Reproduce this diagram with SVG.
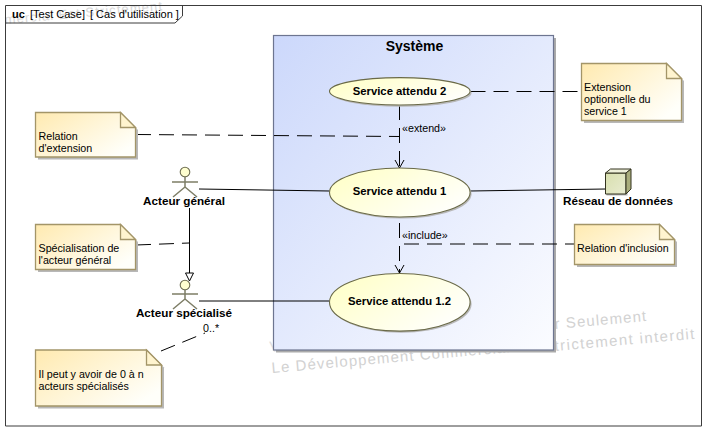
<svg xmlns="http://www.w3.org/2000/svg" width="716" height="441" viewBox="0 0 716 441">
<style>
text{font-family:"Liberation Sans",Arial,sans-serif;font-size:10.700px;fill:#000}
.b{font-weight:bold;text-anchor:middle;font-size:11.300px}
.ac{font-size:11.700px}
.wm{font-size:15px;fill:#d2d2d2;letter-spacing:1.100px}
.n{fill:url(#ng);stroke:#a39568;stroke-width:1.300}
.f{fill:#fff4cf;stroke:#a39568;stroke-width:1.300}
.s{fill:#b8b8b8}
.u{fill:url(#ug);stroke:#6a6a48;stroke-width:1.100}
.c{fill:none;stroke:#000;stroke-width:1}
.d{stroke-dasharray:15 8}
.a{fill:none;stroke:#7d7d66;stroke-width:1.500}
</style>
<defs>
<linearGradient id="ng" x1="0" y1="0" x2="1" y2="0.700"><stop offset="0" stop-color="#ffeab0"/><stop offset="1" stop-color="#fffffa"/></linearGradient>
<linearGradient id="ug" x1="0" y1="0.200" x2="1" y2="0.800"><stop offset="0" stop-color="#ffffc8"/><stop offset="1" stop-color="#ffffff"/></linearGradient>
<linearGradient id="sg" x1="0" y1="0" x2="1" y2="1"><stop offset="0" stop-color="#ccd8fb"/><stop offset="1" stop-color="#fbfcff"/></linearGradient>
<linearGradient id="cg" x1="0" y1="0" x2="1" y2="1"><stop offset="0" stop-color="#d8dfae"/><stop offset="1" stop-color="#e8ebd0"/></linearGradient>
</defs>
<rect width="716" height="441" fill="#fff"/>
<g id="watermark">
<text class="wm" transform="translate(270 352) rotate(-5)" style="fill:#e0e0e0">V</text>
<text class="wm" transform="translate(272 373) rotate(-5)">Le Développement Commercial</text>
<text class="wm" transform="translate(555 329) rotate(-5)">r Seulement</text>
<text class="wm" transform="translate(555 351) rotate(-5)" style="letter-spacing:1.400px">trictement interdit</text>
<text class="wm" transform="translate(5 24) rotate(-5)" style="font-size:13px;fill:#d8d8d8">mercial Est Strictement</text>
</g>
<g id="frame">
<path d="M5.500 5.500H701.500V426H5.500Z" fill="none" stroke="#3c3c3c"/>
<path d="M5.500 23H175L182.500 16V5.500" fill="none" stroke="#3c3c3c"/>
<text x="12" y="18" style="font-size:11px"><tspan font-weight="bold">uc</tspan><tspan x="30">[Test Case]</tspan><tspan x="90">[ Cas d'utilisation ]</tspan></text>
</g>
<g id="systeme">
<rect x="276" y="38" width="280" height="314.500" fill="#aaa"/>
<rect x="273.500" y="35.500" width="280" height="314.500" fill="url(#sg)" stroke="#6d7590" stroke-width="1.200"/>
<text class="b" x="414.500" y="51" style="font-size:14px">Système</text>
</g>
<g id="connectors">
<path class="c" d="M199 189L329.500 191"/>
<path class="c" d="M199 301H329.500"/>
<path class="c" d="M470 191L605.500 189"/>
<path class="c" d="M189.500 208V273"/>
<path d="M185.500 273H193.500L189.500 281Z" fill="#fff" stroke="#000"/>
<path class="c d" d="M399.500 105V168"/>
<path class="c" d="M395 160L399.500 168L404 160" stroke="#444"/>
<path class="c d" d="M399.500 223V273"/>
<path class="c" d="M395 265L399.500 273L404 265"/>
<path class="c d" d="M136 134.500L399.500 136.500"/>
<path class="c d" d="M136 245L189 243"/>
<path class="c d" d="M161 351L205 333"/>
<path class="c d" d="M470.500 91.500H582"/>
<path class="c d" d="M404 244H575"/>
<text x="402" y="131.500">«extend»</text>
<text x="402" y="239">«include»</text>
<text x="203" y="332">0..*</text>
</g>
<g id="service2">
<ellipse class="s" cx="401.300" cy="93" rx="70.300" ry="13.700"/>
<ellipse class="u" cx="399.800" cy="91.300" rx="70.300" ry="13.700"/>
<text class="b" x="399.500" y="94.500">Service attendu 2</text>
</g>
<g id="service1">
<ellipse class="s" cx="401.300" cy="194" rx="70.300" ry="24.500"/>
<ellipse class="u" cx="399.800" cy="192.500" rx="70.300" ry="24.500"/>
<text class="b" x="399.500" y="195">Service attendu 1</text>
</g>
<g id="service12">
<ellipse class="s" cx="401.300" cy="304" rx="70.300" ry="28.800"/>
<ellipse class="u" cx="399.800" cy="302.300" rx="70.300" ry="28.800"/>
<text class="b" x="399.500" y="305">Service attendu 1.2</text>
</g>
<g id="acteur-general">
<path class="a" d="M185 177V187M172 182H198M185 187L173 197M185 187L197 197"/>
<circle cx="185" cy="172" r="4.800" fill="#ffffd0" stroke="#6e6e52" stroke-width="1.100"/>
<text class="b ac" x="184" y="205">Acteur général</text>
</g>
<g id="acteur-specialise">
<path class="a" d="M185 290V299M172 294H198M185 299L173 309M185 299L197 309"/>
<circle cx="185" cy="285" r="4.800" fill="#ffffd0" stroke="#6e6e52" stroke-width="1.100"/>
<text class="b ac" x="184" y="317">Acteur spécialisé</text>
</g>
<g id="reseau">
<path d="M606.500 174H627.500V195.500H606.500Z" class="s"/>
<path d="M605.500 173H626V194H605.500Z" fill="url(#cg)" stroke="#33331f"/>
<path d="M605.500 173L610.500 169H631L626 173Z" fill="#eef0da" stroke="#33331f"/>
<path d="M626 173L631 169V189L626 194Z" fill="#a9ad7c" stroke="#33331f"/>
<text class="b ac" x="618" y="205">Réseau de données</text>
</g>
<g id="note-extension">
<path class="s" d="M38 115H123L138 130V159.500H38Z"/>
<path class="n" d="M35.500 112.500H120.500L135.500 127.500V157H35.500Z"/>
<path class="f" d="M120.500 112.500V127.500H135.500Z"/>
<text x="38.500" y="140">Relation</text><text x="38.500" y="152">d'extension</text>
</g>
<g id="note-specialisation">
<path class="s" d="M38 227H123L138 242V272H38Z"/>
<path class="n" d="M35.500 224.500H120.500L135.500 239.500V269.500H35.500Z"/>
<path class="f" d="M120.500 224.500V239.500H135.500Z"/>
<text x="38.500" y="252">Spécialisation de</text><text x="38.500" y="264">l'acteur général</text>
</g>
<g id="note-cardinalite">
<path class="s" d="M38 352.500H149L164 367.500V408.500H38Z"/>
<path class="n" d="M35.500 350H146.500L161.500 365V406H35.500Z"/>
<path class="f" d="M146.500 350V365H161.500Z"/>
<text x="38.500" y="378">Il peut y avoir de 0 à n</text><text x="38.500" y="390">acteurs spécialisés</text>
</g>
<g id="note-optionnelle">
<path class="s" d="M584 66H669L684 81V123H584Z"/>
<path class="n" d="M581.500 63.500H666.500L681.500 78.500V120.500H581.500Z"/>
<path class="f" d="M666.500 63.500V78.500H681.500Z"/>
<text x="584" y="91">Extension</text><text x="584" y="103">optionnelle du</text><text x="584" y="115">service 1</text>
</g>
<g id="note-inclusion">
<path class="s" d="M577 227H662L677 242V267H577Z"/>
<path class="n" d="M574.500 224.500H659.500L674.500 239.500V264.500H574.500Z"/>
<path class="f" d="M659.500 224.500V239.500H674.500Z"/>
<text x="577" y="252">Relation d'inclusion</text>
</g>
</svg>
